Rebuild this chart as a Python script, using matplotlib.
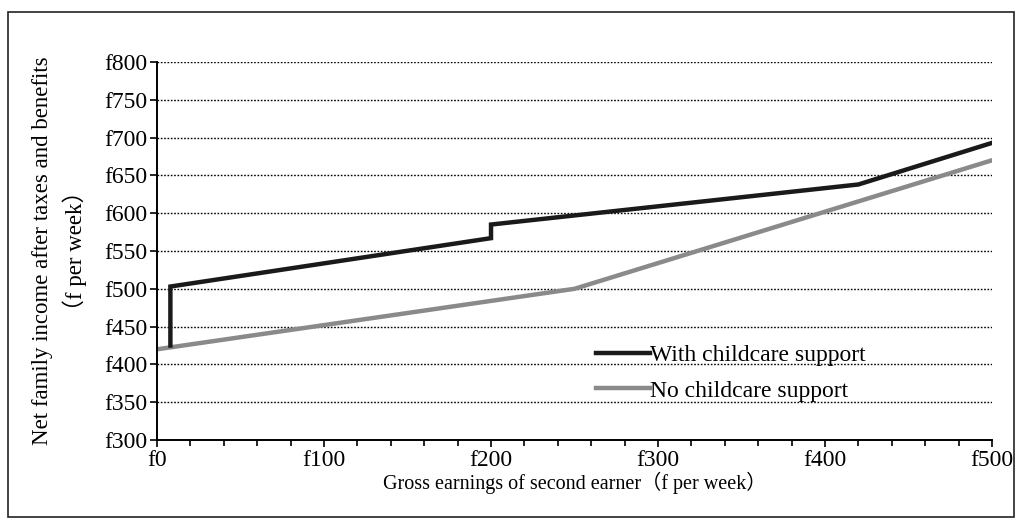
import matplotlib.pyplot as plt
from matplotlib.patches import Rectangle
from matplotlib.ticker import MultipleLocator

# Gross earnings of second earner (f per week) and net family income
with_x = [8, 8, 200, 200, 420, 500]
with_y = [425, 503, 567, 585, 638, 693]
no_x = [0, 250, 500]
no_y = [420, 500, 670]

y_ticks = list(range(300, 801, 50))
x_ticks = [0, 100, 200, 300, 400, 500]

plt.rcParams["font.family"] = ["Liberation Serif", "Noto Sans CJK SC", "DejaVu Serif"]

fig = plt.figure(figsize=(10.21, 5.25), dpi=100)
ax = fig.add_axes([0.1538, 0.1619, 0.8178, 0.7200])

# outer frame around the whole figure
fig.patches.append(Rectangle((0.008, 0.015), 0.985, 0.962, transform=fig.transFigure,
                             fill=False, edgecolor="#222222", linewidth=1.2))

for y in y_ticks[1:]:
    ax.axhline(y, color="black", linestyle=(0, (1.2, 1.2)), linewidth=1.0, zorder=1)

ax.plot(with_x, with_y, color="#1a1a1a", linewidth=3.2, label="With childcare support",
        solid_joinstyle="miter", zorder=3)
ax.plot(no_x, no_y, color="#8a8a8a", linewidth=3.2, label="No childcare support", zorder=2)

ax.set_xlim(0, 500)
ax.set_ylim(300, 800)
ax.set_xticks(x_ticks)
ax.set_xticklabels([f"f{v}" for v in x_ticks])
ax.xaxis.set_minor_locator(MultipleLocator(20))
ax.set_yticks(y_ticks)
ax.set_yticklabels([f"f{v}" for v in y_ticks])
ax.tick_params(axis="both", labelsize=17, length=5, width=1.2, direction="out", pad=2)
ax.tick_params(axis="x", which="minor", length=4, width=1.2, direction="out")

for side in ["top", "right"]:
    ax.spines[side].set_visible(False)
for side in ["left", "bottom"]:
    ax.spines[side].set_linewidth(1.4)

ax.set_xlabel("Gross earnings of second earner（f per week）", fontsize=14.5, labelpad=1)
ax.set_ylabel("Net family income after taxes and benefits\n（f per week）", fontsize=16.5,
              labelpad=12, linespacing=1.5)

leg = ax.legend(loc="lower left", bbox_to_anchor=(0.50, 0.045), frameon=False, fontsize=17,
                handlelength=2.3, handletextpad=0.0, labelspacing=0.6)

fig.savefig("out.png", dpi=100)
